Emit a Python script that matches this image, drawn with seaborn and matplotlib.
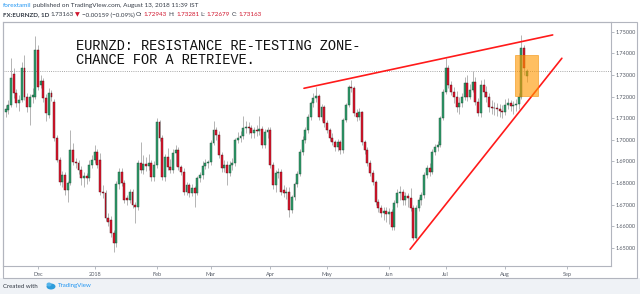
import numpy as np
import pandas as pd
import matplotlib
matplotlib.use("Agg")
import matplotlib.pyplot as plt
import seaborn as sns
from matplotlib.patches import Rectangle, Ellipse

# ---------------- data (EURNZD daily) ----------------
opens = [
    1.7130, 1.7138, 1.7161, 1.7305, 1.7216, 1.7170, 1.7185, 1.7332, 1.7198, 1.7152,
    1.7198, 1.7200, 1.7415, 1.7253, 1.7272, 1.7193, 1.7115, 1.7216, 1.7174, 1.7008,
    1.6906, 1.6804, 1.6837, 1.6767, 1.6799, 1.6952, 1.6897, 1.6892, 1.6860, 1.6823,
    1.6832, 1.6823, 1.6883, 1.6906, 1.6943, 1.6905, 1.6757, 1.6752, 1.6638, 1.6630,
    1.6568, 1.6522, 1.6794, 1.6850, 1.6799, 1.6728, 1.6720, 1.6757, 1.6698, 1.6688,
    1.6892, 1.6860, 1.6887, 1.6880, 1.6890, 1.6828, 1.6883, 1.7080, 1.7008, 1.6828,
    1.6920, 1.6873, 1.6860, 1.6938, 1.6952, 1.6873, 1.6851, 1.6758, 1.6790, 1.6752,
    1.6776, 1.6753, 1.6822, 1.6838, 1.6880, 1.6892, 1.6899, 1.6985, 1.7045, 1.7022,
    1.6929, 1.6869, 1.6883, 1.6846, 1.6883, 1.6892, 1.6999, 1.7008, 1.7017, 1.7054,
    1.7058, 1.7052, 1.7030, 1.7045, 1.7040, 1.7050, 1.6976, 1.7036, 1.7045, 1.6883,
    1.6790, 1.6846, 1.6851, 1.6768, 1.6753, 1.6760, 1.6675, 1.6734, 1.6794, 1.6841,
    1.6943, 1.6999, 1.7045, 1.7105, 1.7170, 1.7193, 1.7202, 1.7105, 1.7150, 1.7077,
    1.7045, 1.7008, 1.6989, 1.6966, 1.6989, 1.6952, 1.7091, 1.7161, 1.7244, 1.7240,
    1.7124, 1.7105, 1.7128, 1.6989, 1.6952, 1.6892, 1.6846, 1.6804, 1.6711, 1.6683,
    1.6661, 1.6668, 1.6658, 1.6665, 1.6596, 1.6707, 1.6753, 1.6760, 1.6722, 1.6738,
    1.6730, 1.6683, 1.6545, 1.6683, 1.6720, 1.6744, 1.6837, 1.6869, 1.6851, 1.6943,
    1.6966, 1.6975, 1.7100, 1.7221, 1.7332, 1.7253, 1.7221, 1.7198, 1.7152, 1.7170,
    1.7198, 1.7262, 1.7198, 1.7230, 1.7267, 1.7175, 1.7124, 1.7253, 1.7221, 1.7198,
    1.7152, 1.7147, 1.7145, 1.7140, 1.7135, 1.7128, 1.7161, 1.7168, 1.7156, 1.7160,
    1.7165, 1.7198, 1.7424, 1.72943,
]
highs = [
    1.7160, 1.7185, 1.7378, 1.7330, 1.7235, 1.7205, 1.7360, 1.7392, 1.7215, 1.7210,
    1.7240, 1.7478, 1.7440, 1.7300, 1.7285, 1.7210, 1.7240, 1.7228, 1.7190, 1.7020,
    1.6920, 1.6855, 1.6850, 1.6810, 1.7045, 1.6985, 1.6915, 1.6905, 1.6880, 1.6850,
    1.6845, 1.6905, 1.6930, 1.6975, 1.6955, 1.6940, 1.6790, 1.6765, 1.6660, 1.6645,
    1.6580, 1.6810, 1.6870, 1.6870, 1.6815, 1.6745, 1.6770, 1.6770, 1.6710, 1.6905,
    1.6990, 1.6930, 1.6920, 1.6935, 1.6905, 1.6900, 1.7100, 1.7090, 1.7020, 1.6935,
    1.6960, 1.6910, 1.6955, 1.6975, 1.6965, 1.6885, 1.6870, 1.6805, 1.6800, 1.6795,
    1.6785, 1.6830, 1.6850, 1.6900, 1.6910, 1.6905, 1.7000, 1.7085, 1.7060, 1.7040,
    1.6945, 1.6905, 1.6900, 1.6900, 1.6915, 1.7010, 1.7035, 1.7040, 1.7110, 1.7085,
    1.7080, 1.7070, 1.7060, 1.7070, 1.7110, 1.7065, 1.7050, 1.7060, 1.7060, 1.6895,
    1.6860, 1.6870, 1.6865, 1.6790, 1.6780, 1.6780, 1.6745, 1.6805, 1.6855, 1.6955,
    1.7015, 1.7060, 1.7118, 1.7180, 1.7215, 1.7244, 1.7210, 1.7165, 1.7160, 1.7090,
    1.7055, 1.7030, 1.7000, 1.7005, 1.7000, 1.7100, 1.7170, 1.7255, 1.7276, 1.7250,
    1.7140, 1.7145, 1.7135, 1.7000, 1.6965, 1.6905, 1.6860, 1.6815, 1.6725, 1.6700,
    1.6690, 1.6690, 1.6685, 1.6680, 1.6720, 1.6770, 1.6785, 1.6770, 1.6760, 1.6755,
    1.6775, 1.6700, 1.6700, 1.6735, 1.6760, 1.6850, 1.6885, 1.6890, 1.6955, 1.6980,
    1.6995, 1.7110, 1.7235, 1.7378, 1.7345, 1.7270, 1.7245, 1.7225, 1.7200, 1.7215,
    1.7290, 1.7300, 1.7260, 1.7316, 1.7290, 1.7195, 1.7275, 1.7280, 1.7250, 1.7215,
    1.7185, 1.7175, 1.7170, 1.7165, 1.7160, 1.7190, 1.7195, 1.7185, 1.7180, 1.7190,
    1.7215, 1.7485, 1.7440, 1.73281,
]
lows = [
    1.7105, 1.7120, 1.7150, 1.7195, 1.7150, 1.7135, 1.7175, 1.7185, 1.7130, 1.7068,
    1.7170, 1.7190, 1.7230, 1.7240, 1.7175, 1.7085, 1.7100, 1.7180, 1.6995, 1.6895,
    1.6790, 1.6780, 1.6745, 1.6712, 1.6790, 1.6885, 1.6870, 1.6840, 1.6790, 1.6780,
    1.6795, 1.6810, 1.6870, 1.6890, 1.6870, 1.6745, 1.6730, 1.6625, 1.6600, 1.6550,
    1.6480, 1.6505, 1.6770, 1.6785, 1.6705, 1.6700, 1.6705, 1.6685, 1.6614, 1.6675,
    1.6845, 1.6840, 1.6855, 1.6860, 1.6810, 1.6810, 1.6870, 1.6995, 1.6815, 1.6810,
    1.6860, 1.6845, 1.6845, 1.6880, 1.6860, 1.6835, 1.6745, 1.6745, 1.6735, 1.6740,
    1.6688, 1.6745, 1.6805, 1.6820, 1.6865, 1.6870, 1.6885, 1.6975, 1.7000, 1.6915,
    1.6850, 1.6850, 1.6790, 1.6830, 1.6860, 1.6880, 1.6985, 1.6990, 1.7005, 1.7030,
    1.7025, 1.7010, 1.7010, 1.7015, 1.7020, 1.6960, 1.6960, 1.7010, 1.6870, 1.6770,
    1.6760, 1.6825, 1.6745, 1.6735, 1.6725, 1.6642, 1.6660, 1.6720, 1.6780, 1.6830,
    1.6930, 1.6985, 1.7030, 1.7090, 1.7150, 1.7175, 1.7090, 1.7085, 1.7060, 1.7030,
    1.6995, 1.6975, 1.6950, 1.6950, 1.6935, 1.6940, 1.7080, 1.7150, 1.7220, 1.7110,
    1.7085, 1.7090, 1.6975, 1.6935, 1.6880, 1.6830, 1.6790, 1.6700, 1.6665, 1.6640,
    1.6630, 1.6620, 1.6610, 1.6580, 1.6580, 1.6690, 1.6720, 1.6700, 1.6700, 1.6690,
    1.6670, 1.6535, 1.6540, 1.6670, 1.6700, 1.6730, 1.6825, 1.6830, 1.6840, 1.6930,
    1.6950, 1.6965, 1.7090, 1.7210, 1.7240, 1.7205, 1.7170, 1.7130, 1.7120, 1.7150,
    1.7185, 1.7180, 1.7190, 1.7220, 1.7160, 1.7110, 1.7105, 1.7200, 1.7175, 1.7130,
    1.7120, 1.7115, 1.7110, 1.7105, 1.7100, 1.7115, 1.7140, 1.7135, 1.7120, 1.7135,
    1.7140, 1.7190, 1.7300, 1.72679,
]
closes = [
    1.7140, 1.7161, 1.7285, 1.7216, 1.7170, 1.7185, 1.7332, 1.7198, 1.7152, 1.7198,
    1.7207, 1.7415, 1.7245, 1.7272, 1.7193, 1.7124, 1.7216, 1.7198, 1.7008, 1.6906,
    1.6804, 1.6837, 1.6767, 1.6799, 1.6952, 1.6897, 1.6892, 1.6860, 1.6823, 1.6832,
    1.6823, 1.6883, 1.6906, 1.6943, 1.6883, 1.6757, 1.6752, 1.6638, 1.6620, 1.6568,
    1.6522, 1.6794, 1.6850, 1.6799, 1.6720, 1.6720, 1.6757, 1.6698, 1.6688, 1.6892,
    1.6860, 1.6887, 1.6880, 1.6890, 1.6828, 1.6883, 1.7080, 1.7008, 1.6828, 1.6920,
    1.6873, 1.6860, 1.6938, 1.6952, 1.6873, 1.6851, 1.6758, 1.6790, 1.6752, 1.6776,
    1.6753, 1.6822, 1.6838, 1.6880, 1.6892, 1.6899, 1.6985, 1.7045, 1.7022, 1.6929,
    1.6869, 1.6883, 1.6846, 1.6883, 1.6892, 1.6999, 1.7008, 1.7017, 1.7054, 1.7058,
    1.7052, 1.7030, 1.7045, 1.7040, 1.7050, 1.6976, 1.7036, 1.7045, 1.6883, 1.6790,
    1.6846, 1.6851, 1.6758, 1.6753, 1.6760, 1.6675, 1.6734, 1.6794, 1.6841, 1.6943,
    1.6999, 1.7045, 1.7105, 1.7170, 1.7193, 1.7202, 1.7105, 1.7150, 1.7077, 1.7045,
    1.7008, 1.6989, 1.6966, 1.6989, 1.6952, 1.7091, 1.7161, 1.7244, 1.7240, 1.7124,
    1.7105, 1.7128, 1.6989, 1.6952, 1.6892, 1.6846, 1.6804, 1.6711, 1.6683, 1.6661,
    1.6668, 1.6658, 1.6665, 1.6596, 1.6707, 1.6753, 1.6760, 1.6722, 1.6738, 1.6730,
    1.6683, 1.6545, 1.6683, 1.6720, 1.6744, 1.6837, 1.6869, 1.6851, 1.6943, 1.6966,
    1.6975, 1.7100, 1.7221, 1.7332, 1.7253, 1.7221, 1.7198, 1.7152, 1.7170, 1.7198,
    1.7262, 1.7198, 1.7230, 1.7267, 1.7175, 1.7124, 1.7253, 1.7221, 1.7198, 1.7152,
    1.7147, 1.7145, 1.7140, 1.7135, 1.7128, 1.7161, 1.7168, 1.7156, 1.7160, 1.7165,
    1.7198, 1.7424, 1.73322, 1.73163,
]

first_day = "2017-11-15"
last_day = "2018-08-13"
month_starts = ["2017-12-01", "2018-01-01", "2018-02-01", "2018-03-01", "2018-04-01",
                "2018-05-01", "2018-06-01", "2018-07-01", "2018-08-01", "2018-09-01"]
month_labels = ["Dec", "2018", "Feb", "Mar", "Apr", "May", "Jun", "Jul", "Aug", "Sep"]
price_ticks = [1.65, 1.66, 1.67, 1.68, 1.69, 1.70, 1.71, 1.72, 1.73, 1.74, 1.75]
last_price = 1.73163

# drawings (bar position, price)
resistance_bars = [110.5, 202.6]
resistance_prices = [1.7238, 1.7485]
support_bars = [149.8, 206.0]
support_prices = [1.6493, 1.7377]
zone_bars = [188.7, 197.1]
zone_prices = [1.7202, 1.7392]

title_line1 = "EURNZD: RESISTANCE RE-TESTING ZONE-"
title_line2 = "CHANCE FOR A RETRIEVE."

# ---------------- styling ----------------
sns.set_theme(style="white")
plt.rcParams["font.family"] = ["Lato", "DejaVu Sans"]

W, H = 640, 294
fig = plt.figure(figsize=(W / 100, H / 100), dpi=100)
fig.patch.set_facecolor("white")

def fx(px):
    return px / W

def fy(py):
    return 1 - py / H

# footer background
fig.add_artist(Rectangle((0, 0), 1, fy(278), transform=fig.transFigure,
                         facecolor="#eff2f6", edgecolor="none", zorder=0))

ax = fig.add_axes([fx(3), fy(266), fx(611) - fx(3), fy(22) - fy(266)])
ax.set_facecolor("white")

dates = pd.bdate_range(first_day, last_day)
n = len(closes)
x = np.arange(n)
o = np.array(opens); h = np.array(highs); l = np.array(lows); c = np.array(closes)
up = c >= o
bottom = np.minimum(o, c)
height = np.maximum(np.abs(c - o), 0.00022)

green = "#2f9e6c"
red = "#e3172f"
ax.vlines(x, l, h, color="#a8a8a8", lw=0.6, zorder=2)
ax.bar(x[up], height[up], bottom=bottom[up], width=0.72, color=green,
       edgecolor="#1b4a33", linewidth=0.3, zorder=3)
ax.bar(x[~up], height[~up], bottom=bottom[~up], width=0.72, color=red,
       edgecolor="#4d0a12", linewidth=0.3, zorder=3)

# last price dotted line
ax.axhline(last_price, color="#8a8a8a", lw=0.6, ls=(0, (1, 1.6)), zorder=1)

# trend lines
ax.plot(resistance_bars, resistance_prices, color="#ff1a1a", lw=1.2, zorder=5,
        solid_capstyle="round")
ax.plot(support_bars, support_prices, color="#ff1a1a", lw=1.2, zorder=5,
        solid_capstyle="round")

# zone rectangle
ax.add_patch(Rectangle((zone_bars[0], zone_prices[0]), zone_bars[1] - zone_bars[0],
                       zone_prices[1] - zone_prices[0], facecolor="#ff9800",
                       edgecolor="#f08c00", lw=0.6, alpha=0.62, zorder=6))

# axes limits & ticks
ax.set_xlim(-0.96, 224.2)
ax.set_ylim(1.64153, 1.75449)

ext = pd.bdate_range(first_day, "2018-09-30")
tick_pos = [int(ext.searchsorted(pd.Timestamp(m))) for m in month_starts]
ax.set_xticks(tick_pos)
ax.set_xticklabels(month_labels)
ax.yaxis.tick_right()
ax.set_yticks(price_ticks)
ax.set_yticklabels([f"{v:.5f}" for v in price_ticks])
ax.tick_params(axis="both", which="both", length=1.8, width=0.5, color="#9aa0aa",
               labelsize=4.0, labelcolor="#555b66", direction="out")
ax.tick_params(axis="y", pad=1.5, left=False, right=True)
ax.tick_params(axis="x", pad=2.2, bottom=True)
for s in ax.spines.values():
    s.set_color("#b2b5be")
    s.set_linewidth(0.8)
ax.grid(False)

# outer frame
fig.add_artist(Rectangle((fx(3), fy(278)), fx(637) - fx(3), fy(22) - fy(278),
                         transform=fig.transFigure, fill=False,
                         edgecolor="#b2b5be", lw=0.8, zorder=1))

# chart annotation text
for txt, yb in ((title_line1, 50.5), (title_line2, 64.5)):
    fig.text(fx(76), fy(yb), txt, family="Liberation Mono", fontsize=9.8,
             fontweight="normal", color="#111111", va="baseline", ha="left", zorder=10)

# header texts
renderer = fig.canvas.get_renderer()

def seq_text(x_px, y_px, segments, size):
    xx = x_px
    for txt, color, weight in segments:
        t = fig.text(fx(xx), fy(y_px), txt, color=color, fontsize=size,
                     fontweight=weight, va="center", ha="left",
                     family=["Lato", "DejaVu Sans"])
        bb = t.get_window_extent(renderer=renderer)
        xx = bb.x1 + 1.4

dark = "#333a45"
hdr_red = "#d0142c"
seq_text(3, 5.7, [("forextamil", "#2196f3", "normal"),
                  ("published on TradingView.com, August 13, 2018 11:39 IST", dark, "normal")], 4.6)
seq_text(3, 15.0, [("FX:EURNZD, 1D", dark, "bold"),
                   ("1.73163", dark, "normal"),
                   ("▼", hdr_red, "normal"),
                   ("−0.00159 (−0.09%)", dark, "normal"),
                   ("O:", dark, "normal"), ("1.72943", hdr_red, "normal"),
                   ("H:", dark, "normal"), ("1.73281", hdr_red, "normal"),
                   ("L:", dark, "normal"), ("1.72679", hdr_red, "normal"),
                   ("C:", dark, "normal"), ("1.73163", hdr_red, "normal")], 4.5)

# footer
fig.text(fx(3), fy(286), "Created with", fontsize=4.4, color=dark, va="center", ha="left")
fig.add_artist(Ellipse((fx(51), fy(286.5)), fx(9), 6 / H, transform=fig.transFigure,
                       facecolor="#2d9cdb", edgecolor="none"))
fig.add_artist(Ellipse((fx(49), fy(284.5)), fx(5), 4 / H, transform=fig.transFigure,
                       facecolor="#56b4ea", edgecolor="none"))
fig.text(fx(58), fy(286), "TradingView", fontsize=4.4, color="#2196f3", va="center", ha="left")

fig.savefig("out.png", dpi=100, facecolor=fig.get_facecolor())
